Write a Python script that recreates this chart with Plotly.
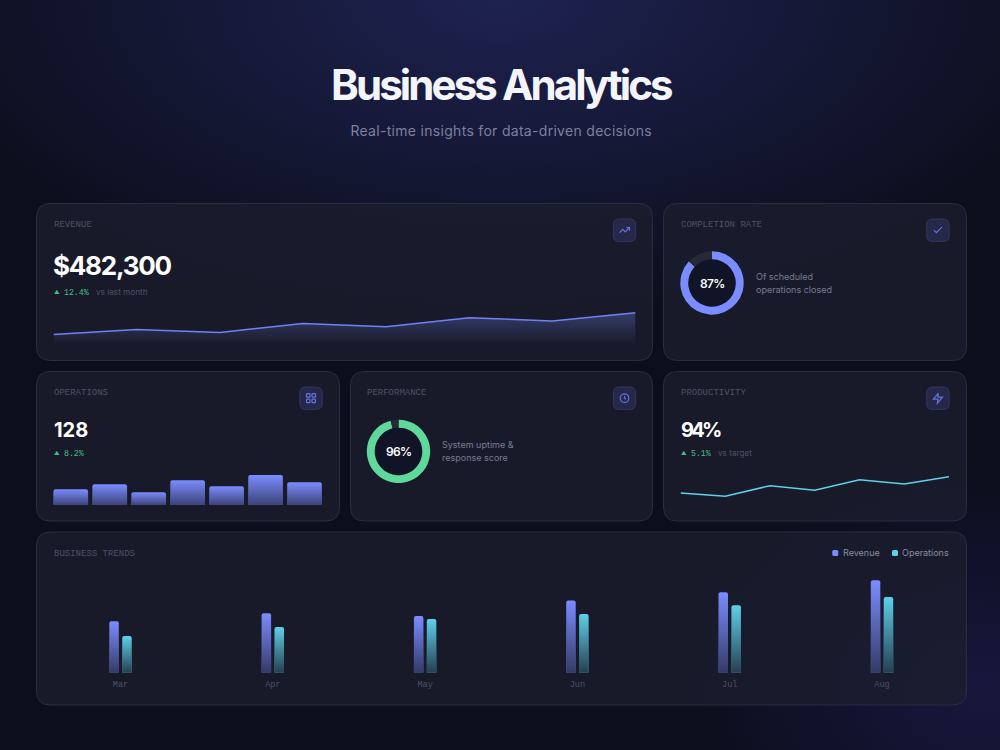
import plotly.graph_objects as go

# ---------- data ----------
months = ["Mar", "Apr", "May", "Jun", "Jul", "Aug"]
trend_revenue = [51.4, 59.4, 56.7, 72.2, 80.4, 92.4]
trend_operations = [36.7, 45.7, 53.7, 58.7, 67.4, 75.7]
revenue_line = [10.5, 15.5, 12.5, 21.5, 18.3, 27.3, 24.0, 32.3]
operations_bars = [15.7, 20.7, 12.7, 24.7, 18.7, 30.0, 22.7]
productivity_line = [7.0, 3.7, 14.3, 9.7, 20.3, 16.0, 23.3]
completion_rate = [87, 13]
performance_score = [96, 4]

# ---------- palette ----------
INDIGO = "#7b8cff"
CYAN = "#5fd0ea"
GREEN = "#5fd89c"
CARD = "rgba(28,30,46,0.8)"
CARD_SOLID = "24,26,42"
BORDER = "#2a2c40"
MUTED = "#4e5066"
SOFT = "#797b92"
MONO = "Liberation Mono"
SANS = "Inter"

W, H = 1000, 750
fig = go.Figure()


def dx(a, b):
    return [a / W, b / W]


def dy(top, bottom):
    return [1 - bottom / H, 1 - top / H]


layout = dict(
    width=W, height=H, margin=dict(l=0, r=0, t=0, b=0), autosize=False,
    paper_bgcolor="rgba(0,0,0,0)", plot_bgcolor="rgba(0,0,0,0)",
    showlegend=False, hovermode=False,
    xaxis=dict(domain=[0, 1], range=[0, W], visible=False, fixedrange=True),
    yaxis=dict(domain=[0, 1], range=[H, 0], visible=False, fixedrange=True),
)
shapes, notes = [], []


def rrect(x0, y0, x1, y1, r):
    return (f"M{x0+r},{y0} L{x1-r},{y0} Q{x1},{y0} {x1},{y0+r} L{x1},{y1-r} Q{x1},{y1} {x1-r},{y1} "
            f"L{x0+r},{y1} Q{x0},{y1} {x0},{y1-r} L{x0},{y0+r} Q{x0},{y0} {x0+r},{y0} Z")


def box(x0, y0, x1, y1, r, fill, line, width=1):
    shapes.append(dict(type="path", path=rrect(x0, y0, x1, y1, r), xref="x", yref="y",
                       fillcolor=fill, line=dict(color=line, width=width), layer="below"))


def text(x, y, s, size, color, family=SANS, weight=400, anchor="left"):
    notes.append(dict(x=x, y=y, xref="x", yref="y", text=s, showarrow=False, xanchor=anchor,
                      yanchor="middle", align=anchor, borderpad=0, borderwidth=0,
                      font=dict(family=family, size=size, color=color, weight=weight)))


def icon(x0, y0, paths, circles=(), rects=()):
    box(x0, y0, x0 + 22.4, y0 + 22.4, 6, "#252848", "#32365f")
    s = 0.5
    ox, oy = x0 + 11.2 - 6, y0 + 11.2 - 6
    col = "#6373dc"
    for poly in paths:
        d = "M" + " L".join(f"{ox+a*s},{oy+b*s}" for a, b in poly)
        shapes.append(dict(type="path", path=d, xref="x", yref="y", line=dict(color=col, width=1.2), layer="above"))
    for cx, cy, r in circles:
        shapes.append(dict(type="circle", x0=ox+(cx-r)*s, x1=ox+(cx+r)*s, y0=oy+(cy-r)*s, y1=oy+(cy+r)*s,
                           xref="x", yref="y", line=dict(color=col, width=1.2), layer="above"))
    for a, b, c, d2 in rects:
        shapes.append(dict(type="path", path=rrect(ox+a*s, oy+b*s, ox+c*s, oy+d2*s, 0.6), xref="x", yref="y",
                           line=dict(color=col, width=1.2), layer="above"))


# ---------- cards ----------
box(36.5, 203.5, 652.5, 360.5, 14, CARD, BORDER)
box(663.5, 203.5, 966.5, 360.5, 14, CARD, BORDER)
box(36.5, 371.5, 339.5, 521, 14, CARD, BORDER)
box(350.5, 371.5, 652.5, 521, 14, CARD, BORDER)
box(663.5, 371.5, 966.5, 521, 14, CARD, BORDER)
box(36.5, 532, 966.5, 705, 14, CARD, BORDER)

icon(613.3, 219, [[(22, 7), (13.5, 15.5), (8.5, 10.5), (2, 17)], [(16, 7), (22, 7), (22, 13)]])
icon(926.7, 219, [[(20, 6), (9, 17), (4, 12)]])
icon(299.8, 387, [], rects=[(3, 3, 10, 10), (14, 3, 21, 10), (14, 14, 21, 21), (3, 14, 10, 21)])
icon(613.3, 387, [[(12, 7), (12, 12), (15, 14)]], circles=[(12, 12, 8.5)])
icon(926.7, 387, [[(13, 2), (3, 14), (12, 14), (11, 22), (21, 10), (12, 10), (13, 2)]])

# ---------- header ----------
text(501, 84, "Business Analytics", 42, "#f4f5fb", weight=700, anchor="center")
text(501, 130.5, "Real-time insights for data-driven decisions", 14, "#7d80a0", anchor="center")

# ---------- card text ----------
for x, y, s in [(53.5, 224.7, "REVENUE"), (680.5, 224.7, "COMPLETION RATE"), (53.5, 392.7, "OPERATIONS"),
                (367, 392.7, "PERFORMANCE"), (680.5, 392.7, "PRODUCTIVITY"), (53.5, 553.7, "BUSINESS TRENDS")]:
    text(x, y, s, 9, MUTED, family=MONO)

text(53, 265.3, "$482,300", 26, "#ffffff", weight=700)
text(53.5, 430, "128", 20, "#ffffff", weight=700)
text(680.5, 430, "94%", 20, "#ffffff", weight=700)

GREEN_TXT = "#46bd86"
for x, y, pct in [(53.5, 292, "12.4%"), (53.5, 453, "8.2%"), (680.5, 453, "5.1%")]:
    text(x, y, "▲", 5.5, GREEN_TXT)
    text(x + 10, y, pct, 8.2, GREEN_TXT, family=MONO)
text(96, 292, "vs last month", 8.2, MUTED)
text(718, 453, "vs target", 8.2, MUTED)

text(755.5, 276.4, "Of scheduled", 9, SOFT)
text(755.5, 289.4, "operations closed", 9, SOFT)
text(442, 444.4, "System uptime &", 9, SOFT)
text(442, 457.4, "response score", 9, SOFT)

# legend
for x, col in [(832.3, INDIGO), (892, CYAN)]:
    box(x, 550, x + 6, 556, 1.5, col, col, 0)
text(842.8, 552.6, "Revenue", 9, "#8a8ca3")
text(902.2, 552.6, "Operations", 9, "#8a8ca3")


# ---------- donuts ----------
def donut(cx, cy, values, color, label):
    r = 31.7
    shapes.append(dict(type="circle", x0=cx-24, x1=cx+24, y0=cy-24, y1=cy+24, xref="x", yref="y",
                       fillcolor="#111326", line=dict(width=0), layer="below"))
    fig.add_trace(go.Pie(values=values, hole=0.75, sort=False, direction="clockwise", rotation=0,
                         marker=dict(colors=[color, "#272937"], line=dict(width=0)),
                         textinfo="none", hoverinfo="skip", showlegend=False,
                         domain=dict(x=dx(cx-r, cx+r), y=dy(cy-r, cy+r))))
    text(cx, cy, label, 12, "#ffffff", weight=600, anchor="center")


donut(712, 283, completion_rate, INDIGO, "87%")
donut(398.5, 451.4, performance_score, GREEN, "96%")


# ---------- bars with a fade ----------
def fade(xa, ya, x, v, width, strength):
    fig.add_trace(go.Scatter(
        x=[x, x + width, x + width, x, x], y=[v, v, 0, 0, v], xaxis=xa, yaxis=ya, mode="none",
        fill="toself", hoverinfo="skip",
        fillgradient=dict(type="vertical", start=v, stop=0,
                          colorscale=[[0, f"rgba({CARD_SOLID},0)"], [1, f"rgba({CARD_SOLID},{strength})"]])))


# revenue sparkline
layout["xaxis2"] = dict(domain=dx(53.5, 635.5), range=[0, 7], visible=False, fixedrange=True, anchor="y2")
layout["yaxis2"] = dict(domain=dy(305, 345), range=[0, 40], visible=False, fixedrange=True, anchor="x2")
fig.add_trace(go.Scatter(
    x=list(range(8)), y=revenue_line, xaxis="x2", yaxis="y2", mode="lines",
    line=dict(color="#6f82f5", width=1.5), fill="tozeroy", hoverinfo="skip",
    fillgradient=dict(type="vertical", start=max(revenue_line), stop=0,
                      colorscale=[[0, "rgba(123,140,255,0.3)"], [1, "rgba(123,140,255,0)"]])))

# operations bars
layout["xaxis3"] = dict(domain=dx(51.3, 324.0), range=[-0.5, 6.5], visible=False, fixedrange=True, anchor="y3")
layout["yaxis3"] = dict(domain=dy(465, 505), range=[0, 40], visible=False, fixedrange=True, anchor="x3")
op_w = 0.89
fig.add_trace(go.Bar(x=list(range(7)), y=operations_bars, xaxis="x3", yaxis="y3", width=op_w,
                     marker=dict(color=INDIGO, line=dict(width=0), cornerradius=2), hoverinfo="skip"))
for i, v in enumerate(operations_bars):
    fade("x3", "y3", i - op_w / 2, v, op_w, 0.64)

# productivity line
layout["xaxis4"] = dict(domain=dx(680.5, 949), range=[0, 6], visible=False, fixedrange=True, anchor="y4")
layout["yaxis4"] = dict(domain=dy(470, 500), range=[0, 30], visible=False, fixedrange=True, anchor="x4")
fig.add_trace(go.Scatter(x=list(range(7)), y=productivity_line, xaxis="x4", yaxis="y4", mode="lines",
                         line=dict(color=CYAN, width=1.5), hoverinfo="skip"))

# trends grouped bars
layout["xaxis5"] = dict(domain=dx(44.35, 958.15), range=[-0.5, 5.5], fixedrange=True, anchor="y5",
                        showgrid=False, zeroline=False, showline=False, ticks="",
                        tickmode="array", tickvals=list(range(6)), ticktext=months, ticklabelstandoff=5,
                        tickfont=dict(family=MONO, size=8.5, color=MUTED))
layout["yaxis5"] = dict(domain=dy(572.7, 672.7), range=[0, 100], visible=False, fixedrange=True, anchor="x5")
tw = 9.5 / 152.3
for vals, off, col, strength in [(trend_revenue, -0.0735, INDIGO, 0.72), (trend_operations, 0.0112, CYAN, 0.8)]:
    fig.add_trace(go.Bar(x=list(range(6)), y=vals, xaxis="x5", yaxis="y5", width=tw, offset=off,
                         marker=dict(color=col, line=dict(width=0), cornerradius=2), hoverinfo="skip"))
    for i, v in enumerate(vals):
        fade("x5", "y5", i + off, v, tw, strength)

fig.update_layout(barmode="overlay", shapes=shapes, annotations=notes, **layout)

css = """
html,body{margin:0;padding:0;overflow:hidden;height:750px;background:
 radial-gradient(ellipse 62% 42% at 50% 0%, #1e2250 0%, rgba(30,34,80,0) 100%),
 radial-gradient(ellipse 30% 30% at 98% 92%, #16173c 0%, rgba(22,23,60,0) 100%),
 #0c0e1c;}
text[data-unformatted="Business Analytics"]{letter-spacing:-2.9px;}
text[data-unformatted^="Real-time"]{letter-spacing:0.3px;}
text[data-unformatted^="$482"]{letter-spacing:-1.25px;}
text[data-unformatted="94%"]{letter-spacing:-2.8px;}
text[data-unformatted="87%"],text[data-unformatted="96%"]{letter-spacing:-0.6px;}
"""
post = "var s=document.createElement('style');s.textContent=" + repr(css.replace("\n", " ")) + ";document.head.appendChild(s);"
fig.write_html("out.html", post_script=post, config=dict(displayModeBar=False, staticPlot=True))
